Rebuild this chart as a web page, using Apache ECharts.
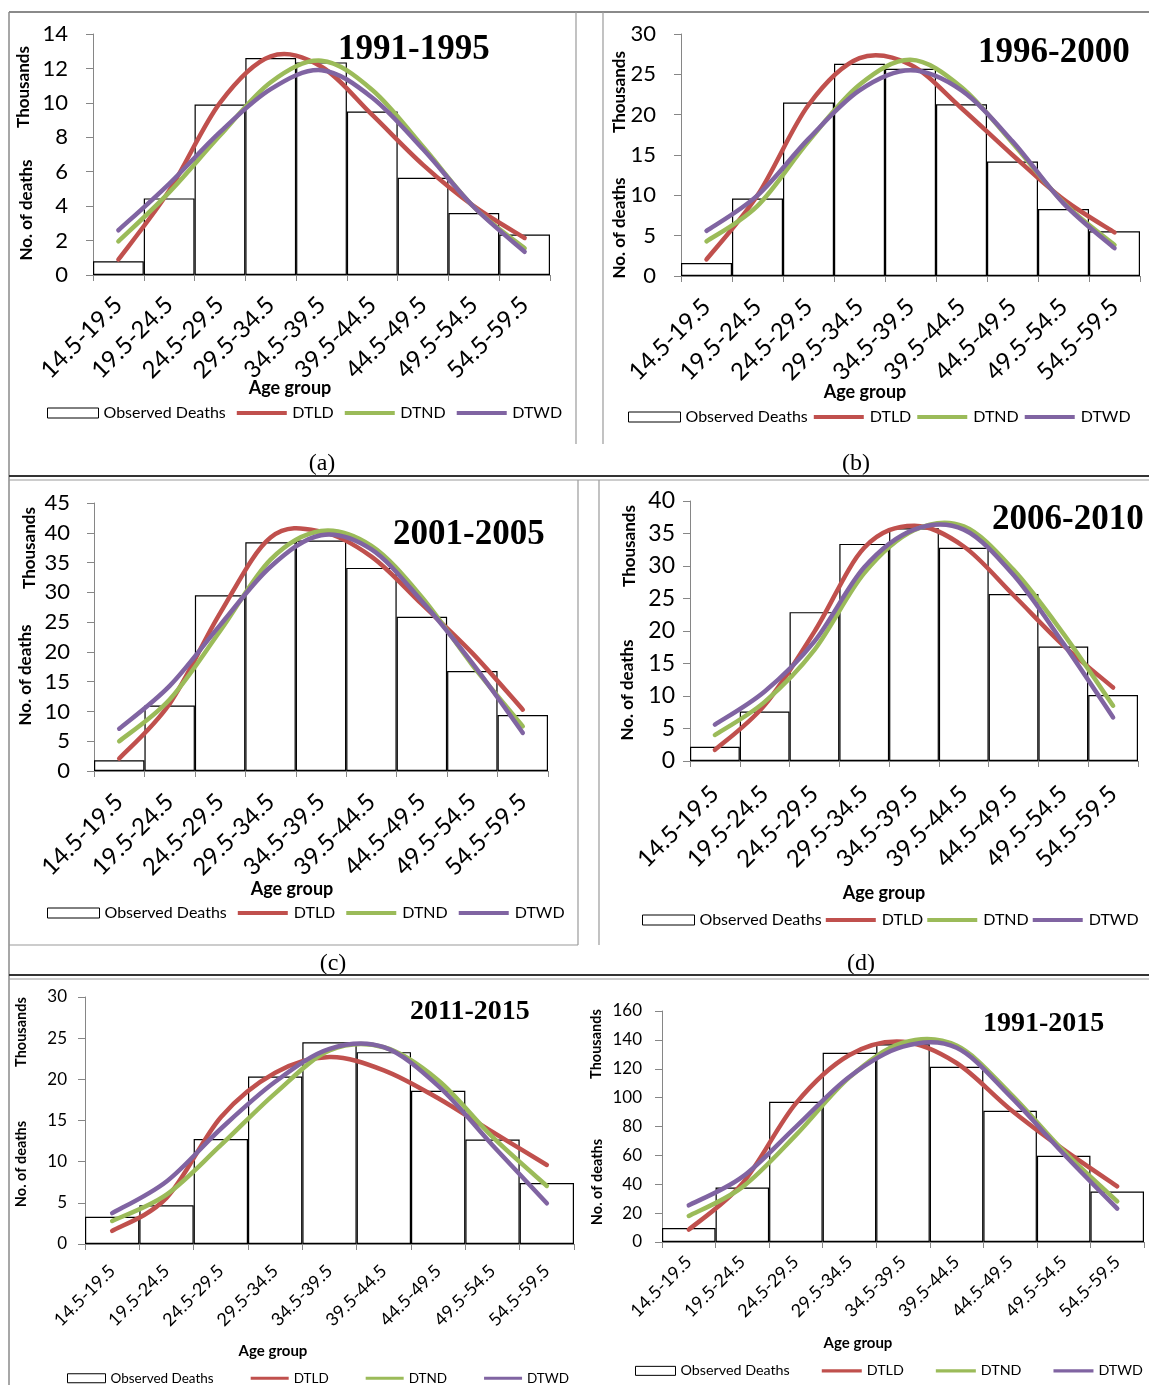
<!DOCTYPE html>
<html><head><meta charset="utf-8">
<script src="https://cdn.jsdelivr.net/npm/echarts@6/dist/echarts.min.js"></script>
<style>html,body{margin:0;padding:0;background:#fff}#c{width:1149px;height:1385px}</style>
</head><body><div id="c"></div>
<script>
// ---------- data (deaths, thousands) ----------
const ageGroups = ['14.5-19.5','19.5-24.5','24.5-29.5','29.5-34.5','34.5-39.5','39.5-44.5','44.5-49.5','49.5-54.5','54.5-59.5'];
const periods = ['1991-1995','1996-2000','2001-2005','2006-2010','2011-2015','1991-2015'];
const panelTags = ['(a)','(b)','(c)','(d)'];
const seriesNames = ['Observed Deaths','DTLD','DTND','DTWD'];
const yMax = [14, 30, 45, 40, 30, 160];
const yStep = [2, 5, 5, 5, 5, 20];

const observedA = [0.8, 4.45, 9.9, 12.6, 12.35, 9.5, 5.65, 3.6, 2.35];
const dtldA = [0.9, 4.9, 10.0, 12.7, 12.1, 9.3, 6.4, 4.0, 2.15];
const dtndA = [1.95, 4.8, 8.1, 11.2, 12.45, 10.75, 7.45, 3.95, 1.55];
const dtwdA = [2.6, 5.3, 8.3, 10.8, 11.9, 10.3, 7.3, 3.95, 1.35];

const observedB = [1.6, 9.6, 21.5, 26.3, 25.7, 21.3, 14.2, 8.3, 5.55];
const dtldB = [2.05, 10.0, 21.2, 27.0, 26.2, 20.8, 15.0, 9.5, 5.4];
const dtndB = [4.3, 8.7, 16.7, 23.7, 26.8, 23.4, 16.5, 9.1, 3.85];
const dtwdB = [5.6, 10.0, 17.0, 23.0, 25.5, 23.0, 16.7, 9.0, 3.45];

const observedC = [1.8, 11.0, 29.5, 38.4, 38.7, 34.1, 25.9, 16.8, 9.4];
const dtldC = [2.1, 11.3, 26.5, 39.2, 40.2, 36.0, 28.0, 19.8, 10.3];
const dtndC = [5.0, 12.0, 23.5, 35.5, 40.3, 37.8, 29.2, 17.8, 7.5];
const dtwdC = [7.1, 14.3, 24.5, 34.3, 39.6, 37.2, 28.5, 18.1, 6.4];

const observedD = [2.2, 7.6, 22.9, 33.4, 35.8, 32.8, 25.7, 17.6, 10.15];
const dtldD = [1.7, 8.6, 19.9, 32.8, 36.2, 33.0, 25.5, 17.8, 11.3];
const dtndD = [4.0, 9.1, 17.1, 28.9, 35.5, 36.1, 29.4, 19.6, 8.5];
const dtwdD = [5.6, 10.7, 18.4, 29.8, 35.6, 35.6, 28.6, 18.1, 6.7];

const observedE = [3.3, 4.7, 12.75, 20.35, 24.5, 23.3, 18.6, 12.7, 7.4];
const dtldE = [1.6, 5.6, 15.4, 20.8, 22.7, 21.1, 17.7, 13.6, 9.6];
const dtndE = [2.8, 6.0, 12.0, 18.3, 23.5, 23.9, 19.9, 13.0, 7.05];
const dtwdE = [3.75, 7.6, 14.0, 19.7, 23.7, 23.9, 19.2, 12.0, 4.95];

const observedF = [9.7, 37.7, 97.1, 131.1, 137.0, 121.4, 90.9, 59.7, 34.9];
const dtldF = [8.6, 40.5, 96.0, 129.5, 138.7, 124.0, 92.0, 64.0, 38.6];
const dtndF = [18.0, 38.0, 74.0, 114.0, 138.0, 136.0, 103.0, 63.0, 28.2];
const dtwdF = [25.4, 45.1, 79.8, 114.5, 135.3, 134.5, 101.0, 61.0, 23.1];

// ---------- assembly ----------
const observed = [observedA, observedB, observedC, observedD, observedE, observedF];
const dtld = [dtldA, dtldB, dtldC, dtldD, dtldE, dtldF];
const dtnd = [dtndA, dtndB, dtndC, dtndD, dtndE, dtndF];
const dtwd = [dtwdA, dtwdB, dtwdC, dtwdD, dtwdE, dtwdF];
const lineColors = ['#C0504D', '#9BBB59', '#8064A2'];

const layout = [
  {grid:{left:93,top:34,width:457,height:241}, fs:22, xfs:24, ym:25, xm:26, title:[338,32,35], th:[24,87], de:[27,210], nfs:17, age:[290,388], afs:18, lg:{left:47,y:413,gap:11,w:51,h:10,fs:16}, tag:[322,464]},
  {grid:{left:681,top:34,width:459,height:242}, fs:22, xfs:24, ym:25, xm:27, title:[978,35,35], th:[620,92], de:[620,228], nfs:17, age:[865,392], afs:18, lg:{left:628,y:417,gap:6,w:52,h:10,fs:16}, tag:[856,464]},
  {grid:{left:94,top:503,width:454,height:268}, fs:22, xfs:24, ym:24, xm:27, title:[393,517,35], th:[30,548], de:[26,675], nfs:17, age:[292,889], afs:18, lg:{left:47,y:913,gap:11,w:52,h:10,fs:16}, tag:[333,964]},
  {grid:{left:690,top:501,width:448,height:260}, fs:23, xfs:24, ym:15, xm:29, title:[992,502,35], th:[630,546], de:[628,690], nfs:17, age:[884,893], afs:18, lg:{left:642,y:920,gap:4,w:52,h:10,fs:16}, tag:[861,964]},
  {grid:{left:85,top:997,width:489,height:247}, fs:17, xfs:18, ym:18, xm:24, title:[410,998,28], th:[21,1032], de:[21,1164], nfs:14.5, age:[273,1351], afs:15, lg:{left:67,y:1378,gap:37,w:38,h:9,fs:13.5}, tag:null},
  {grid:{left:662,top:1011,width:482,height:231}, fs:17, xfs:18, ym:20, xm:17, title:[983,1010,28], th:[596,1044], de:[597,1182], nfs:14.5, age:[858,1343], afs:15, lg:{left:635,y:1371,gap:32,w:40,h:9,fs:14.3}, tag:null}
];

// Smooth curve through the fitted points (Catmull-Rom style, as in spreadsheet "smoothed line")
function curveRenderer(color) {
  return function (params, api) {
    if (params.dataIndexInside !== 0) return;
    const n = params.dataInsideLength;
    const pts = [];
    for (let j = 0; j < n; j++) pts.push(api.coord([api.value(0, j), api.value(1, j)]));
    let d = 'M' + pts[0][0] + ',' + pts[0][1];
    for (let j = 0; j < n - 1; j++) {
      const p0 = pts[Math.max(j - 1, 0)], p1 = pts[j], p2 = pts[j + 1], p3 = pts[Math.min(j + 2, n - 1)];
      const c1x = p1[0] + (p2[0] - p0[0]) / 6, c1y = p1[1] + (p2[1] - p0[1]) / 6;
      const c2x = p2[0] - (p3[0] - p1[0]) / 6, c2y = p2[1] - (p3[1] - p1[1]) / 6;
      d += ' C' + c1x + ',' + c1y + ' ' + c2x + ',' + c2y + ' ' + p2[0] + ',' + p2[1];
    }
    return {type:'path', silent:true, shape:{pathData:d},
      style:{fill:'none', stroke:color, lineWidth:4.5, lineCap:'round', lineJoin:'round'}};
  };
}

const option = {animation:false, backgroundColor:'#fff', title:[], grid:[], xAxis:[], yAxis:[], legend:[], series:[], graphic:[]};
const G = option.graphic;
const FF = 'Lato';

layout.forEach((L, i) => {
  option.grid.push(Object.assign({containLabel:false}, L.grid));
  option.xAxis.push({
    type:'category', gridIndex:i, data:ageGroups, boundaryGap:true,
    axisLine:{show:true, lineStyle:{color:'#868686', width:1}},
    axisTick:{show:true, length:6, lineStyle:{color:'#868686'}},
    axisLabel:{interval:0, rotate:45, fontSize:L.xfs, fontFamily:FF, color:'#000', margin:L.xm},
    splitLine:{show:false}
  });
  option.yAxis.push({
    type:'value', gridIndex:i, min:0, max:yMax[i], interval:yStep[i],
    axisLine:{show:true, lineStyle:{color:'#868686', width:1}},
    axisTick:{show:true, length:7, lineStyle:{color:'#868686'}},
    axisLabel:{fontSize:L.fs, fontFamily:FF, color:'#000', margin:L.ym},
    splitLine:{show:false}
  });
  option.series.push({
    type:'bar', name:seriesNames[0], xAxisIndex:i, yAxisIndex:i, data:observed[i],
    barCategoryGap:'0%', itemStyle:{color:'#fff', borderColor:'#000', borderWidth:1.2},
    emphasis:{disabled:true}, z:2, silent:true
  });
  [dtld, dtnd, dtwd].forEach((arr, k) => {
    option.series.push({
      type:'custom', name:seriesNames[k+1], xAxisIndex:i, yAxisIndex:i,
      data:arr[i].map((v, j) => [j, v]), encode:{x:0, y:1},
      renderItem:curveRenderer(lineColors[k]), itemStyle:{color:lineColors[k]},
      z:3, silent:true, clip:false
    });
  });
  option.title.push({
    text:periods[i], left:L.title[0], top:L.title[1], padding:0,
    textStyle:{fontFamily:'Liberation Serif', fontWeight:'bold', fontSize:L.title[2], color:'#000'}
  });
  const lineIcon = 'path://M0,0L0,0M0,3L50,3L50,7L0,7ZM50,10L50,10';
  option.legend.push({
    left:L.lg.left, top:L.lg.y - Math.max(L.lg.h, L.lg.fs) / 2, orient:'horizontal', width:1149 - L.lg.left,
    itemWidth:L.lg.w, itemHeight:L.lg.h, itemGap:L.lg.gap, padding:0, selectedMode:false,
    textStyle:{fontFamily:FF, fontSize:L.lg.fs, color:'#000'},
    data:[
      {name:seriesNames[0], icon:'rect', itemStyle:{color:'#fff', borderColor:'#000', borderWidth:1}},
      {name:seriesNames[1], icon:lineIcon, itemStyle:{color:lineColors[0], borderWidth:0}},
      {name:seriesNames[2], icon:lineIcon, itemStyle:{color:lineColors[1], borderWidth:0}},
      {name:seriesNames[3], icon:lineIcon, itemStyle:{color:lineColors[2], borderWidth:0}}
    ]
  });
  const vtext = (txt, pos, fs) => ({type:'text', x:pos[0], y:pos[1], rotation:Math.PI/2, silent:true,
    style:{text:txt, fontFamily:FF, fontWeight:'bold', fontSize:fs, fill:'#000', align:'center', verticalAlign:'middle'}});
  G.push(vtext('Thousands', L.th, L.nfs));
  G.push(vtext('No. of deaths', L.de, L.nfs));
  G.push({type:'text', x:L.age[0], y:L.age[1], silent:true,
    style:{text:'Age group', fontFamily:FF, fontWeight:'bold', fontSize:L.afs, fill:'#000', align:'center', verticalAlign:'middle'}});
  if (L.tag) {
    G.push({type:'text', x:L.tag[0], y:L.tag[1], silent:true,
      style:{text:panelTags[i], fontFamily:'Liberation Serif', fontSize:24, fill:'#000', align:'center', verticalAlign:'middle'}});
  }
});

// panel frame lines
const seg = (x1, y1, x2, y2, c, w) => ({type:'line', silent:true, shape:{x1, y1, x2, y2}, style:{stroke:c, lineWidth:w}});
G.push(seg(9, 12, 1149, 12, '#8a8a8a', 2));
G.push(seg(9, 12, 9, 1385, '#8a8a8a', 1.5));
G.push(seg(576, 12, 576, 444, '#9a9a9a', 1.2));
G.push(seg(603, 12, 603, 444, '#9a9a9a', 1.2));
G.push(seg(9, 476, 1149, 476, '#333', 2));
G.push(seg(9, 480, 1149, 480, '#9a9a9a', 1));
G.push(seg(578, 480, 578, 945, '#9a9a9a', 1.2));
G.push(seg(9, 945, 578, 945, '#9a9a9a', 1.2));
G.push(seg(599, 480, 599, 945, '#9a9a9a', 1.2));
G.push(seg(9, 975, 1149, 975, '#333', 2));
G.push(seg(9, 979, 1149, 979, '#9a9a9a', 1));

const chart = echarts.init(document.getElementById('c'), null, {renderer:'canvas'});
chart.setOption(option);
</script>
</body></html>
